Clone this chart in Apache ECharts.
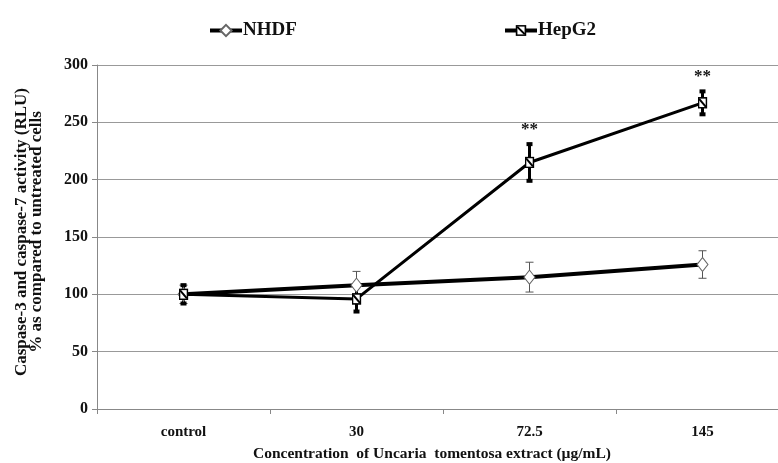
<!DOCTYPE html>
<html><head><meta charset="utf-8">
<script src="https://cdn.jsdelivr.net/npm/echarts@6/dist/echarts.min.js"></script>
<style>html,body{margin:0;padding:0;background:#fff}#c{width:778px;height:463px}</style>
</head><body><div id="c"></div>
<script>
const categories = ['control', '30', '72.5', '145'];
const nhdfMean = [100, 108, 115, 126];
const nhdfErr = [8, 12, 13, 12];
const hepMean = [100, 96, 215, 267];
const hepErr = [8, 11, 16, 10];
const hepSig = ['', '', '**', '**'];
const yTicks = [0, 50, 100, 150, 200, 250, 300];
const yTitle = 'Caspase-3 and caspase-7 activity (RLU)\n% as compared to untreated cells';
const xTitle = 'Concentration  of Uncaria  tomentosa extract (µg/mL)';

const FONT = 'Liberation Serif';
const svg = "<svg xmlns='http://www.w3.org/2000/svg' width='20' height='24' viewBox='0 0 10 12'>" +
  "<rect x='1' y='1' width='8' height='10' fill='white' stroke='black' stroke-width='1.6'/>" +
  "<line x1='1.6' y1='2' x2='8.4' y2='10' stroke='black' stroke-width='2'/></svg>";
const hepSymbol = 'image://data:image/svg+xml;charset=utf-8,' + encodeURIComponent(svg);

function errData(mean, err, sig) {
  return mean.map((m, i) => [i, m - err[i], m + err[i], sig ? sig[i] : '']);
}

function errRender(style) {
  return function (params, api) {
    const i = api.value(0);
    const lo = api.coord([i, api.value(1)]);
    const hi = api.coord([i, api.value(2)]);
    const x = lo[0];
    const children = [
      { type: 'line', shape: { x1: x, y1: lo[1], x2: x, y2: hi[1] }, style: { stroke: style.color, lineWidth: style.width } }
    ];
    if (style.block) {
      children.push({ type: 'rect', shape: { x: x - 3, y: hi[1] - 2, width: 6, height: 4 }, style: { fill: style.color } });
      children.push({ type: 'rect', shape: { x: x - 3, y: lo[1] - 2, width: 6, height: 4 }, style: { fill: style.color } });
    } else {
      children.push({ type: 'line', shape: { x1: x - 4, y1: hi[1], x2: x + 4, y2: hi[1] }, style: { stroke: style.color, lineWidth: 1 } });
      children.push({ type: 'line', shape: { x1: x - 4, y1: lo[1], x2: x + 4, y2: lo[1] }, style: { stroke: style.color, lineWidth: 1 } });
    }
    const s = api.value(3);
    if (s) {
      children.push({ type: 'text', style: { x: x, y: hi[1] - 15, text: s, align: 'center', verticalAlign: 'middle',
        fill: '#111', font: 'bold 17px "' + FONT + '"' } });
    }
    return { type: 'group', children };
  };
}

const legendCommon = {
  top: 21, padding: 0, itemWidth: 32, itemHeight: 14, itemGap: 4,
  lineStyle: { width: 4, color: '#000' },
  textStyle: { fontFamily: FONT, fontWeight: 'bold', fontSize: 19, color: '#111', padding: [0, 0, 0, -4] }
};

const chart = echarts.init(document.getElementById('c'));
chart.setOption({
  animation: false,
  backgroundColor: '#fff',
  grid: { left: 97, top: 65, width: 692, height: 344, containLabel: false, outerBoundsMode: 'none' },
  legend: [
    Object.assign({ data: ['NHDF'], left: 208 }, legendCommon),
    Object.assign({ data: ['HepG2'], left: 503 }, legendCommon)
  ],
  graphic: [{
    type: 'text', x: 29, y: 232, rotation: Math.PI / 2,
    style: { text: yTitle, align: 'center', verticalAlign: 'middle', fill: '#111',
      font: 'bold 17px "' + FONT + '"', lineHeight: 14.5 }
  }],
  xAxis: {
    type: 'category', data: categories, boundaryGap: true,
    axisLine: { lineStyle: { color: '#888', width: 1 } },
    axisTick: { show: true, length: 5, lineStyle: { color: '#888' } },
    axisLabel: { margin: 16, fontFamily: FONT, fontWeight: 'bold', fontSize: 15, color: '#111' },
    name: xTitle,
    nameLocation: 'middle', nameGap: 37,
    nameTextStyle: { fontFamily: FONT, fontWeight: 'bold', fontSize: 15.5, color: '#111', padding: [0, 22, 0, 0] }
  },
  yAxis: {
    type: 'value', min: yTicks[0], max: yTicks[yTicks.length - 1], interval: 50,
    axisLine: { show: true, lineStyle: { color: '#888', width: 1 } },
    axisTick: { show: true, length: 5, lineStyle: { color: '#888' } },
    splitLine: { show: true, lineStyle: { color: '#999', width: 1 } },
    axisLabel: { margin: 9, fontFamily: FONT, fontWeight: 'bold', fontSize: 16, color: '#111' }
  },
  series: [
    { type: 'custom', name: 'nhdfErr', z: 1, data: errData(nhdfMean, nhdfErr),
      renderItem: errRender({ color: '#555', width: 1, block: false }) },
    { type: 'custom', name: 'hepErr', z: 1, data: errData(hepMean, hepErr, hepSig),
      renderItem: errRender({ color: '#000', width: 3, block: true }) },
    { type: 'line', name: 'NHDF', z: 3, data: nhdfMean,
      symbol: 'diamond', symbolSize: [11, 14], showAllSymbol: true,
      lineStyle: { color: '#000', width: 4 },
      itemStyle: { color: '#fff', borderColor: '#666', borderWidth: 1 } },
    { type: 'line', name: 'HepG2', z: 4, data: hepMean,
      symbol: hepSymbol, symbolSize: [10, 12], showAllSymbol: true,
      lineStyle: { color: '#000', width: 3 },
      itemStyle: { color: '#000' } }
  ]
});
</script></body></html>
